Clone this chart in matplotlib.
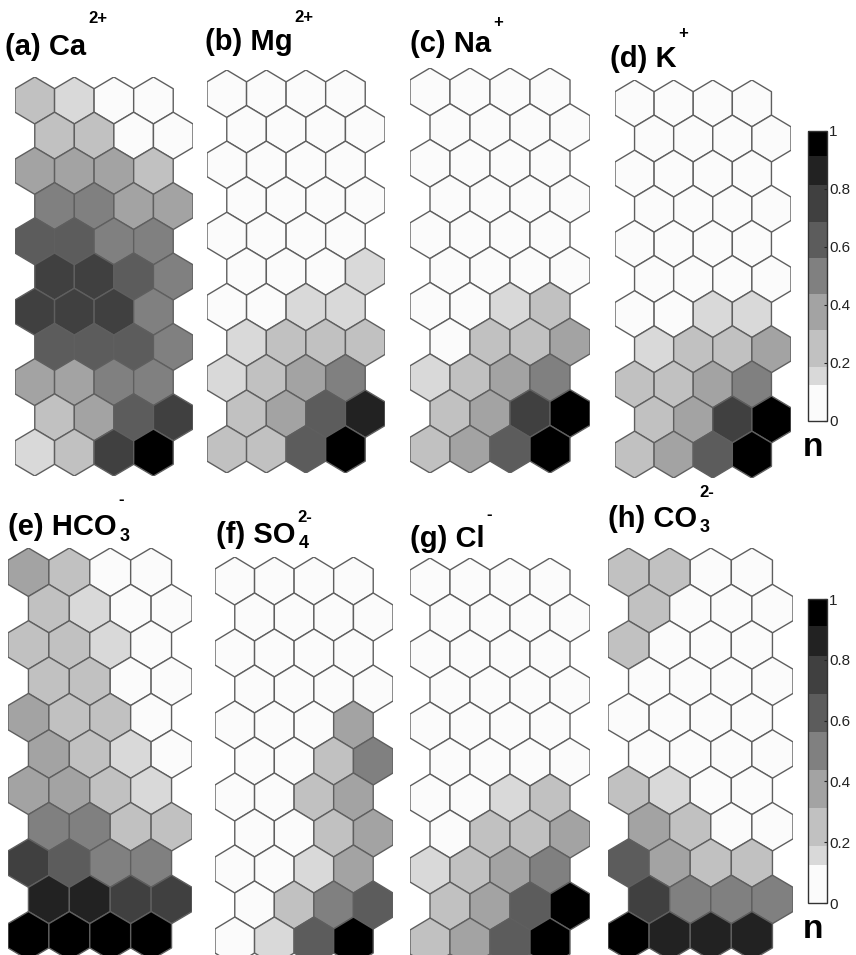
import numpy as np
import matplotlib
matplotlib.use("Agg")
import matplotlib.pyplot as plt
from matplotlib.collections import PolyCollection
from matplotlib.colors import ListedColormap, BoundaryNorm
from matplotlib.cm import ScalarMappable

plt.rcParams['font.family'] = ['Liberation Sans', 'DejaVu Sans']

W, H = 856, 955

# ---- data: normalized component-plane values (11 rows x 4 cols, top row first) ----
ca = [[0.25, 0.15, 0.05, 0.05],
      [0.25, 0.25, 0.05, 0.05],
      [0.375, 0.375, 0.375, 0.25],
      [0.5, 0.5, 0.375, 0.375],
      [0.625, 0.625, 0.5, 0.5],
      [0.75, 0.75, 0.625, 0.5],
      [0.75, 0.75, 0.75, 0.5],
      [0.625, 0.625, 0.625, 0.5],
      [0.375, 0.375, 0.5, 0.5],
      [0.25, 0.375, 0.625, 0.75],
      [0.15, 0.25, 0.75, 0.96]]
mg = [[0.05, 0.05, 0.05, 0.05],
      [0.05, 0.05, 0.05, 0.05],
      [0.05, 0.05, 0.05, 0.05],
      [0.05, 0.05, 0.05, 0.05],
      [0.05, 0.05, 0.05, 0.05],
      [0.05, 0.05, 0.05, 0.15],
      [0.05, 0.05, 0.15, 0.15],
      [0.15, 0.25, 0.25, 0.25],
      [0.15, 0.25, 0.375, 0.5],
      [0.25, 0.375, 0.625, 0.86],
      [0.25, 0.25, 0.625, 0.96]]
na = [[0.05, 0.05, 0.05, 0.05],
      [0.05, 0.05, 0.05, 0.05],
      [0.05, 0.05, 0.05, 0.05],
      [0.05, 0.05, 0.05, 0.05],
      [0.05, 0.05, 0.05, 0.05],
      [0.05, 0.05, 0.05, 0.05],
      [0.05, 0.05, 0.15, 0.25],
      [0.05, 0.25, 0.25, 0.375],
      [0.15, 0.25, 0.375, 0.5],
      [0.25, 0.375, 0.75, 0.96],
      [0.25, 0.375, 0.625, 0.96]]
k = [[0.05, 0.05, 0.05, 0.05],
     [0.05, 0.05, 0.05, 0.05],
     [0.05, 0.05, 0.05, 0.05],
     [0.05, 0.05, 0.05, 0.05],
     [0.05, 0.05, 0.05, 0.05],
     [0.05, 0.05, 0.05, 0.05],
     [0.05, 0.05, 0.15, 0.15],
     [0.15, 0.25, 0.25, 0.375],
     [0.25, 0.25, 0.375, 0.5],
     [0.25, 0.375, 0.75, 0.96],
     [0.25, 0.375, 0.625, 0.96]]
hco3 = [[0.375, 0.25, 0.05, 0.05],
        [0.25, 0.15, 0.05, 0.05],
        [0.25, 0.25, 0.15, 0.05],
        [0.25, 0.25, 0.05, 0.05],
        [0.375, 0.25, 0.25, 0.05],
        [0.375, 0.25, 0.15, 0.05],
        [0.375, 0.375, 0.25, 0.15],
        [0.5, 0.5, 0.25, 0.25],
        [0.75, 0.625, 0.5, 0.5],
        [0.86, 0.86, 0.75, 0.75],
        [0.96, 0.96, 0.96, 0.96]]
so4 = [[0.05, 0.05, 0.05, 0.05],
       [0.05, 0.05, 0.05, 0.05],
       [0.05, 0.05, 0.05, 0.05],
       [0.05, 0.05, 0.05, 0.05],
       [0.05, 0.05, 0.05, 0.375],
       [0.05, 0.05, 0.25, 0.5],
       [0.05, 0.05, 0.25, 0.375],
       [0.05, 0.05, 0.25, 0.375],
       [0.05, 0.05, 0.15, 0.375],
       [0.05, 0.25, 0.5, 0.625],
       [0.05, 0.15, 0.625, 0.96]]
cl = [[0.05, 0.05, 0.05, 0.05],
      [0.05, 0.05, 0.05, 0.05],
      [0.05, 0.05, 0.05, 0.05],
      [0.05, 0.05, 0.05, 0.05],
      [0.05, 0.05, 0.05, 0.05],
      [0.05, 0.05, 0.05, 0.05],
      [0.05, 0.05, 0.15, 0.25],
      [0.05, 0.25, 0.25, 0.375],
      [0.15, 0.25, 0.375, 0.5],
      [0.25, 0.375, 0.625, 0.96],
      [0.25, 0.375, 0.625, 0.96]]
co3 = [[0.25, 0.25, 0.05, 0.05],
       [0.25, 0.05, 0.05, 0.05],
       [0.25, 0.05, 0.05, 0.05],
       [0.05, 0.05, 0.05, 0.05],
       [0.05, 0.05, 0.05, 0.05],
       [0.05, 0.05, 0.05, 0.05],
       [0.25, 0.15, 0.05, 0.05],
       [0.375, 0.25, 0.05, 0.05],
       [0.625, 0.375, 0.25, 0.25],
       [0.75, 0.5, 0.5, 0.5],
       [0.96, 0.86, 0.86, 0.86]]

panel_letters = ['(a)', '(b)', '(c)', '(d)', '(e)', '(f)', '(g)', '(h)']
panel_species = ['Ca', 'Mg', 'Na', 'K', 'HCO', 'SO', 'Cl', 'CO']
panel_sup = ['2+', '2+', '+', '+', '-', '2-', '-', '2-']
panel_sub = ['', '', '', '', '3', '4', '', '3']
panel_data = [ca, mg, na, k, hco3, so4, cl, co3]

cbar_ticks = [0, 0.2, 0.4, 0.6, 0.8, 1]
cbar_ticklabels = ['0', '0.2', '0.4', '0.6', '0.8', '1']
band_bounds = [0, 0.125, 0.1875, 0.3125, 0.4375, 0.5625, 0.6875, 0.8125, 0.9125, 1.0]
band_colors = ['#fbfbfb', '#d9d9d9', '#c1c1c1', '#a3a3a3', '#808080',
               '#5c5c5c', '#404040', '#222222', '#000000']
cmap = ListedColormap(band_colors)
norm = BoundaryNorm(band_bounds, cmap.N)

# ---- layout (pixels) ----
boxes = [(15, 193, 77, 476), (207, 385, 70, 473), (410, 590, 68, 473), (615, 791, 80, 478),
         (8, 192, 548, 960), (215, 393, 557, 965), (410, 590, 558, 966), (608, 793, 548, 960)]
titles = [(5, 55, 23, None), (205, 50, 22, None), (410, 52, 27, None), (610, 67, 38, None),
          (8, 535, 504, 541), (216, 543, 522, 548), (410, 547, 519, None), (608, 527, 497, 532)]
cbar_boxes = [(808, 827, 131, 421), (808, 827, 599, 903)]
n_pos = [(813, 456), (813, 938)]

fig = plt.figure(figsize=(W / 100, H / 100), dpi=100)


def px_axes(l, r, t, b):
    return fig.add_axes([l / W, 1 - b / H, (r - l) / W, (b - t) / H])


R = 1 / np.sqrt(3)
ang = np.deg2rad(np.arange(6) * 60 + 30)
hx = R * np.cos(ang)
hy = R * np.sin(ang)

for i, data in enumerate(panel_data):
    arr = np.asarray(data)
    nr, nc = arr.shape
    ax = px_axes(*boxes[i])
    verts, vals = [], []
    for r in range(nr):
        for c in range(nc):
            cx = c + 0.5 * (r % 2)
            cy = -r * np.sqrt(3) / 2
            verts.append(np.column_stack([cx + hx, cy + hy]))
            vals.append(arr[r, c])
    pc = PolyCollection(verts, array=np.array(vals), cmap=cmap, norm=norm,
                        edgecolors='#5f5f5f', linewidths=1.0)
    ax.add_collection(pc)
    ax.set_xlim(-0.5, nc + 0.0)
    ax.set_ylim(-(nr - 1) * np.sqrt(3) / 2 - R, R)
    ax.axis('off')

renderer = fig.canvas.get_renderer()
for i in range(8):
    x, yb, ysup, ysub = titles[i]
    t = fig.text(x / W, 1 - yb / H, panel_letters[i] + ' ' + panel_species[i],
                 fontsize=21, fontweight='bold', ha='left', va='baseline')
    bb = t.get_window_extent(renderer)
    x1 = bb.x1 + 2
    fig.text(x1 / W, 1 - ysup / H, panel_sup[i], fontsize=12, fontweight='bold',
             ha='left', va='baseline')
    if panel_sub[i]:
        fig.text((x1 + 1) / W, 1 - ysub / H, panel_sub[i], fontsize=13, fontweight='bold',
                 ha='left', va='baseline')

for j, cb in enumerate(cbar_boxes):
    cax = px_axes(*cb)
    sm = ScalarMappable(norm=norm, cmap=cmap)
    cbar = fig.colorbar(sm, cax=cax, ticks=cbar_ticks, spacing='proportional')
    cbar.minorticks_off()
    cbar.ax.set_yticks(cbar_ticks)
    cbar.ax.set_yticklabels(cbar_ticklabels)
    cbar.ax.tick_params(labelsize=11, length=2.5, width=0.8, pad=1.5, colors='#222222',
                        direction='in')
    cbar.outline.set_linewidth(1.0)
    cbar.outline.set_edgecolor('#333333')
    nx, ny = n_pos[j]
    fig.text(nx / W, 1 - ny / H, 'n', fontsize=24, fontweight='bold', ha='center',
             va='baseline')

fig.savefig('out.png', dpi=100, facecolor='white')
